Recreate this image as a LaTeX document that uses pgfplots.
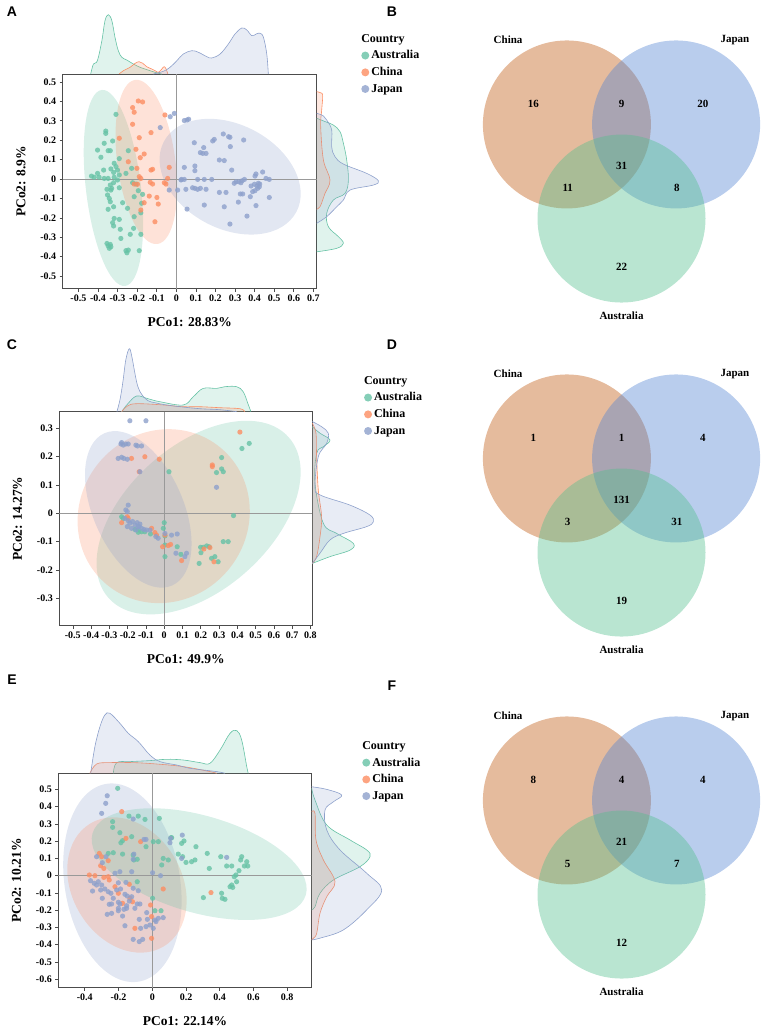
\documentclass[border=0pt]{standalone}
\usepackage{pgfplots}
\pgfplotsset{compat=1.18}
\usepackage{fontspec}
\setmainfont{Liberation Serif}
\newfontfamily\panelfont{Liberation Sans}

\definecolor{aus}{HTML}{66C2A5}
\definecolor{chn}{HTML}{FC8D62}
\definecolor{jpn}{HTML}{8DA0CB}
\definecolor{vchn}{RGB}{204,120,60}
\definecolor{vjpn}{RGB}{80,130,210}
\definecolor{vaus}{RGB}{80,190,140}

\pgfplotsset{
  pcoa/.style={
    scale only axis,
    axis line style={black!70, line width=0.7pt},
    tick style={black!70, line width=0.6pt},
    major tick length=3pt,
    tick align=outside,
    xtick pos=bottom, ytick pos=left,
    tick label style={font=\fontsize{10}{10}\selectfont\bfseries},
    label style={font=\fontsize{13.5}{14}\selectfont\bfseries},
    xlabel shift=9pt, ylabel shift=8pt,
    legend cell align=left,
    legend style={draw=none, fill=none, anchor=north west,
      font=\fontsize{12}{13}\selectfont\bfseries,
      nodes={inner sep=2pt}, row sep=3pt},
    legend image code/.code={\draw[mark repeat=2,mark phase=2,##1,mark size=4pt]
      plot coordinates {(0pt,0pt) (4pt,0pt) (8pt,0pt)};},
  },
  pts/.style={only marks, mark=*, mark size=2.6pt, color=#1,
    mark options={solid, fill=#1, fill opacity=0.8, draw opacity=0}},
  dens/.style={smooth, tension=0.6, draw=#1, line width=0.6pt,
    fill=#1, fill opacity=0.2},
  margin/.style={scale only axis, hide axis, clip=false},
  venn/.style={hide axis, clip=false, x=84pt, y=84pt,
    xmin=-2.875, xmax=1.661, ymin=-1.887, ymax=2.042, anchor=south west,
    nodes={font=\fontsize{11}{11}\selectfont\bfseries}},
}

\begin{document}
\begin{tikzpicture}
\path[use as bounding box] (0,0) rectangle (761pt,-1027pt);

% ---------------- Panel A: PCoA ----------------
\begin{axis}[pcoa, at={(62.7pt,-288.7pt)}, anchor=south west,
  width=254pt, height=214.7pt,
  xmin=-0.58, xmax=0.717, ymin=-0.565, ymax=0.541,
  xtick={-0.5,-0.4,-0.3,-0.2,-0.1,0,0.1,0.2,0.3,0.4,0.5,0.6,0.7},
  xticklabels={-0.5,-0.4,-0.3,-0.2,-0.1,0,0.1,0.2,0.3,0.4,0.5,0.6,0.7},
  ytick={-0.5,-0.4,-0.3,-0.2,-0.1,0,0.1,0.2,0.3,0.4,0.5},
  yticklabels={-0.5,-0.4,-0.3,-0.2,-0.1,0,0.1,0.2,0.3,0.4,0.5},
  xlabel={PCo1: 28.83\%}, ylabel={PCo2: 8.9\%},
  legend style={at={(axis description cs:1.163,1.205)}}]
\fill[aus, opacity=0.25, rotate around={96.8:(axis cs:-0.321,-0.046)}]
  (axis cs:-0.321,-0.046) ellipse [x radius=98.7pt, y radius=27.5pt];
\fill[chn, opacity=0.25, rotate around={97.7:(axis cs:-0.153,0.088)}]
  (axis cs:-0.153,0.088) ellipse [x radius=82.8pt, y radius=29pt];
\fill[jpn, opacity=0.25, rotate around={-28:(axis cs:0.275,0.012)}]
  (axis cs:0.275,0.012) ellipse [x radius=75pt, y radius=52pt];
\draw[black!40, line width=0.7pt] (axis cs:0,-0.565) -- (axis cs:0,0.541);
\draw[black!40, line width=0.7pt] (axis cs:-0.58,0) -- (axis cs:0.717,0);
\addlegendimage{empty legend}\addlegendentry{\hspace*{-10pt}Country}
\addplot[pts=aus] coordinates {
(-0.36,0.247) (-0.36,0.235) (-0.308,0.333) (-0.402,0.149) (-0.368,0.184)
(-0.348,0.146) (-0.337,0.146) (-0.325,0.196) (-0.385,0.112) (-0.291,0.105)
(-0.317,0.081) (-0.308,0.064) (-0.334,0.052) (-0.300,0.046) (-0.320,0.034)
(-0.371,0.046) (-0.402,0.029) (-0.433,0.015) (-0.419,0.009) (-0.394,0.009)
(-0.368,0.003) (-0.348,0.003) (-0.317,0.009) (-0.300,-0.005) (-0.291,0.021)
(-0.257,0.029) (-0.228,0.055) (-0.245,0.146) (-0.337,-0.031) (-0.330,-0.048)
(-0.334,-0.057) (-0.351,-0.082) (-0.291,-0.045) (-0.342,-0.100) (-0.337,-0.117)
(-0.320,-0.143) (-0.348,-0.156) (-0.274,-0.122) (-0.249,-0.151) (-0.215,-0.091)
(-0.172,-0.079) (-0.177,-0.125) (-0.215,-0.194) (-0.181,-0.174) (-0.291,-0.208)
(-0.317,-0.203) (-0.325,-0.225) (-0.320,-0.242) (-0.286,-0.259) (-0.181,-0.285)
(-0.235,-0.285) (-0.283,-0.306) (-0.354,-0.332) (-0.348,-0.344) (-0.337,-0.337)
(-0.342,-0.357) (-0.334,-0.349) (-0.257,-0.369) (-0.245,-0.366) (-0.252,-0.380)
(-0.189,-0.369) (-0.218,-0.254) (-0.206,-0.026) (-0.223,-0.019) (-0.194,-0.060)
(-0.354,-0.053) (-0.320,-0.019)};
\addlegendentry{Australia}
\addplot[pts=chn] coordinates {
(-0.194,0.402) (-0.172,0.397) (-0.223,0.368) (-0.215,0.344) (-0.223,0.282)
(-0.189,0.213) (-0.129,0.239) (-0.206,0.153) (-0.184,0.110) (-0.164,0.129)
(-0.245,0.089) (-0.201,0.055) (-0.129,0.046) (-0.121,0.050) (-0.189,0.012)
(-0.181,0.003) (-0.133,-0.017) (-0.121,-0.026) (-0.215,-0.026) (-0.198,-0.027)
(-0.058,0.330) (-0.036,0.060) (-0.044,0.003) (-0.061,-0.019) (-0.053,-0.026)
(-0.138,-0.088) (-0.099,-0.095) (-0.092,-0.129) (-0.164,-0.122) (-0.181,-0.160)
(-0.109,-0.220) (-0.291,0.210)};
\addlegendentry{China}
\addplot[pts=jpn] coordinates {
(-0.010,0.338) (-0.031,0.321) (-0.082,0.265) (0.041,0.301) (0.055,0.304)
(0.063,0.308) (0.092,0.187) (0.041,0.060) (0.095,0.043) (0.041,-0.002)
(0.027,-0.002) (0.109,-0.002) (0.143,-0.002) (0.181,-0.002) (0.049,-0.053)
(0.083,-0.045) (0.095,-0.048) (0.109,-0.053) (0.123,-0.048) (0.152,-0.053)
(0.095,0.067) (0.123,0.136) (0.140,0.162) (0.135,0.132) (0.152,0.132)
(0.186,0.196) (0.194,0.204) (0.240,0.232) (0.267,0.218) (0.274,0.215)
(0.276,0.167) (0.220,0.098) (0.245,0.095) (0.283,0.046) (0.296,-0.022)
(0.305,-0.014) (0.319,-0.014) (0.330,-0.019) (0.336,-0.009) (0.348,-0.002)
(0.344,0.201) (0.245,-0.143) (0.220,-0.069) (0.254,-0.069) (0.143,-0.134)
(0.055,-0.155) (0.327,-0.077) (0.339,-0.077) (0.317,-0.119) (0.361,-0.191)
(0.274,-0.232) (0.378,-0.091) (0.390,-0.065) (0.402,-0.060) (0.412,-0.036)
(0.416,-0.048) (0.424,-0.040) (0.407,0.026) (0.441,0.036) (0.458,0.003)
(0.475,-0.002) (0.402,0.015) (0.419,-0.022) (0.426,-0.026) (0.407,-0.137)
(0.475,-0.095) (0.399,-0.027) (0.382,-0.036) (0.007,-0.057) (0.024,-0.005)
(-0.036,-0.057)};
\addlegendentry{Japan}
\end{axis}

% top margin density, panel A
\begin{axis}[margin, at={(62.7pt,-74pt)}, anchor=south west,
  width=254pt, height=70pt, xmin=-0.58, xmax=0.717, ymin=0, ymax=70]
\addplot[dens=aus] coordinates {(-0.437,0) (-0.423,10) (-0.403,13.3) (-0.380,33.3)
 (-0.364,53.3) (-0.347,59.3) (-0.329,53.3) (-0.313,36.7) (-0.296,23.3) (-0.278,16.7)
 (-0.253,14) (-0.219,10) (-0.185,6.7) (-0.134,3.3) (-0.091,0.7) (-0.074,0)};
\addplot[dens=chn] coordinates {(-0.292,0) (-0.270,3.3) (-0.236,6.7) (-0.210,10.7)
 (-0.190,12.3) (-0.171,10.7) (-0.151,7.3) (-0.125,5) (-0.108,3.3) (-0.091,1.7)
 (-0.074,5) (-0.062,7.3) (-0.052,5) (-0.043,0)};
\addplot[dens=jpn] coordinates {(-0.117,0) (-0.066,2.7) (-0.032,6.7) (0.003,13.3)
 (0.036,20) (0.079,23.3) (0.113,21.7) (0.156,17.3) (0.181,16) (0.224,20) (0.266,30)
 (0.300,40) (0.335,46) (0.360,44) (0.386,38.3) (0.408,40) (0.428,40.7) (0.445,36.7)
 (0.462,20) (0.470,0)};
\end{axis}

% right margin density, panel A
\begin{axis}[margin, at={(316.7pt,-288.7pt)}, anchor=south west,
  width=80pt, height=214.7pt, xmin=0, xmax=80, ymin=-0.565, ymax=0.541]
\addplot[dens=aus] coordinates {(0,0.313) (8.3,0.296) (16.7,0.278) (23.3,0.244)
 (26.7,0.184) (30,0.098) (31.7,-0.005) (28.3,-0.074) (16.7,-0.108) (10,-0.177)
 (11.7,-0.246) (21.7,-0.297) (26.7,-0.331) (20,-0.357) (0,-0.375)};
\addplot[dens=chn] coordinates {(0,0.450) (5,0.442) (6,0.424) (5,0.356) (4,0.270)
 (6.7,0.098) (13.3,-0.005) (8.3,-0.074) (6,-0.108) (3.3,-0.143) (0,-0.156)};
\addplot[dens=jpn] coordinates {(0,0.339) (6.7,0.325) (10,0.304) (15,0.253)
 (15,0.166) (18.3,0.115) (26.7,0.077) (50,0.029) (61.7,-0.009) (56.7,-0.031)
 (33.3,-0.057) (26.7,-0.108) (20,-0.143) (10,-0.194) (0,-0.228)};
\end{axis}

% ---------------- Panel C: PCoA ----------------
\begin{axis}[pcoa, at={(59.3pt,-625.7pt)}, anchor=south west,
  width=253pt, height=214pt,
  xmin=-0.574, xmax=0.810, ymin=-0.397, ymax=0.359,
  xtick={-0.5,-0.4,-0.3,-0.2,-0.1,0,0.1,0.2,0.3,0.4,0.5,0.6,0.7,0.8},
  xticklabels={-0.5,-0.4,-0.3,-0.2,-0.1,0,0.1,0.2,0.3,0.4,0.5,0.6,0.7,0.8},
  ytick={-0.3,-0.2,-0.1,0,0.1,0.2,0.3},
  yticklabels={-0.3,-0.2,-0.1,0,0.1,0.2,0.3},
  xlabel={PCo1: 49.9\%}, ylabel={PCo2: 14.27\%},
  legend style={at={(axis description cs:1.192,1.1855)}}]
\fill[aus, opacity=0.25, rotate around={41.8:(axis cs:0.188,-0.015)}]
  (axis cs:0.188,-0.015) ellipse [x radius=120.7pt, y radius=72.2pt];
\fill[chn, opacity=0.25, rotate around={50:(axis cs:-0.003,-0.010)}]
  (axis cs:-0.003,-0.010) ellipse [x radius=89pt, y radius=84pt];
\fill[jpn, opacity=0.25, rotate around={114:(axis cs:-0.142,0.014)}]
  (axis cs:-0.142,0.014) ellipse [x radius=83.3pt, y radius=45pt];
\draw[black!40, line width=0.7pt] (axis cs:0,-0.397) -- (axis cs:0,0.359);
\draw[black!40, line width=0.7pt] (axis cs:-0.574,0) -- (axis cs:0.810,0);
\addlegendimage{empty legend}\addlegendentry{\hspace*{-10pt}Country}
\addplot[pts=aus] coordinates {
(0.465,0.247) (0.425,0.229) (0.314,0.197) (0.314,0.157) (0.323,0.147)
(0.286,0.144) (0.026,0.147) (0.379,-0.008) (-0.233,-0.012) (-0.160,-0.057)
(-0.142,-0.059) (-0.124,-0.065) (-0.106,-0.065) (-0.075,-0.073) (0.000,-0.033)
(-0.005,-0.053) (0.004,-0.080) (0.004,-0.112) (0.004,-0.153) (0.071,-0.118)
(0.091,-0.145) (0.199,-0.120) (0.213,-0.120) (0.232,-0.115) (0.246,-0.118)
(0.201,-0.139) (0.259,-0.159) (0.277,-0.153) (0.295,-0.171) (0.191,-0.177)
(0.323,-0.100) (0.350,-0.100) (-0.142,-0.067) (-0.224,-0.018)};
\addlegendentry{Australia}
\addplot[pts=chn] coordinates {
(0.414,0.287) (0.263,0.171) (0.263,0.165) (-0.106,0.200) (-0.179,0.194)
(-0.027,0.191) (-0.137,0.147) (-0.202,-0.012) (-0.197,-0.018) (-0.233,-0.033)
(-0.069,-0.053) (-0.051,-0.068) (-0.042,-0.077) (0.004,-0.077) (-0.009,-0.118)
(0.022,-0.114) (0.035,-0.110) (0.217,-0.126) (0.250,-0.121) (0.095,-0.167)
(0.272,-0.171)};
\addlegendentry{China}
\addplot[pts=jpn] coordinates {
(-0.188,0.327) (-0.100,0.327) (-0.237,0.245) (-0.233,0.250) (-0.224,0.241)
(-0.210,0.245) (-0.197,0.245) (-0.155,0.241) (-0.146,0.238) (-0.124,0.238)
(-0.252,0.194) (-0.233,0.198) (-0.221,0.194) (-0.202,0.191) (-0.133,0.147)
(0.286,0.092) (-0.197,0.029) (-0.210,0.012) (-0.202,0.006) (-0.215,-0.018)
(-0.197,-0.026) (-0.188,-0.035) (-0.173,-0.029) (-0.160,-0.041) (-0.148,-0.033)
(-0.137,-0.047) (-0.124,-0.053) (-0.111,-0.057) (-0.097,-0.059) (-0.078,-0.059)
(-0.046,-0.082) (-0.033,-0.088) (-0.202,-0.047) (-0.179,-0.053) (-0.155,-0.059)
(-0.142,-0.047) (-0.133,-0.038) (0.004,-0.071) (0.040,-0.077) (0.071,-0.073)
(0.122,-0.141) (0.113,-0.153) (0.064,-0.141)};
\addlegendentry{Japan}
\end{axis}

% top margin density, panel C
\begin{axis}[margin, at={(59.3pt,-411.7pt)}, anchor=south west,
  width=253pt, height=70pt, xmin=-0.574, xmax=0.810, ymin=0, ymax=70]
\addplot[dens=aus] coordinates {(-0.233,0) (-0.199,8) (-0.151,15.7) (-0.089,13)
 (-0.024,10) (0.104,6.7) (0.159,15) (0.213,23.3) (0.287,23.3) (0.332,25) (0.396,25)
 (0.432,20) (0.458,8) (0.474,0)};
\addplot[dens=chn] coordinates {(-0.233,0) (-0.199,6) (-0.151,8) (-0.024,7)
 (0.102,5) (0.195,5) (0.305,4) (0.414,3) (0.441,0)};
\addplot[dens=jpn] coordinates {(-0.259,0) (-0.242,12) (-0.226,30) (-0.210,52)
 (-0.191,63) (-0.177,55) (-0.160,38) (-0.144,25) (-0.122,17) (-0.089,11) (-0.051,9)
 (0.004,7) (0.086,5) (0.195,3) (0.305,2) (0.398,0)};
\end{axis}

% right margin density, panel C
\begin{axis}[margin, at={(312.3pt,-625.7pt)}, anchor=south west,
  width=80pt, height=214pt, xmin=0, xmax=80, ymin=-0.397, ymax=0.359]
\addplot[dens=aus] coordinates {(0,0.306) (7.7,0.283) (17.7,0.259) (11,0.235)
 (4.4,0.212) (2.7,0.106) (11,-0.035) (24.4,-0.071) (41,-0.106) (37.7,-0.130)
 (17.7,-0.153) (0,-0.177)};
\addplot[dens=chn] coordinates {(0,0.318) (3.7,0.283) (4.3,0.200) (6,0.082)
 (9.3,-0.012) (7.7,-0.083) (4.3,-0.153) (0,-0.177)};
\addplot[dens=jpn] coordinates {(0,0.324) (9.3,0.306) (16,0.283) (14.3,0.247)
 (6,0.200) (2.7,0.094) (7.7,0.065) (37.7,0.029) (57.7,-0.006) (61,-0.030)
 (54.3,-0.047) (31,-0.071) (17.7,-0.094) (7.7,-0.141) (0,-0.177)};
\end{axis}

% ---------------- Panel E: PCoA ----------------
\begin{axis}[pcoa, at={(58.3pt,-987.7pt)}, anchor=south west,
  width=253.4pt, height=214.4pt,
  xmin=-0.557, xmax=0.945, ymin=-0.649, ymax=0.593,
  xtick={-0.4,-0.2,0,0.2,0.4,0.6,0.8},
  xticklabels={-0.4,-0.2,0,0.2,0.4,0.6,0.8},
  ytick={-0.6,-0.5,-0.4,-0.3,-0.2,-0.1,0,0.1,0.2,0.3,0.4,0.5},
  yticklabels={-0.6,-0.5,-0.4,-0.3,-0.2,-0.1,0,0.1,0.2,0.3,0.4,0.5},
  xlabel={PCo1: 22.14\%}, ylabel={PCo2: 10.21\%},
  legend style={at={(axis description cs:1.187,1.169)}}]
\fill[jpn, opacity=0.25, rotate around={99.3:(axis cs:-0.177,-0.041)}]
  (axis cs:-0.177,-0.041) ellipse [x radius=100.2pt, y radius=57.7pt];
\fill[chn, opacity=0.25, rotate around={120.6:(axis cs:-0.150,-0.054)}]
  (axis cs:-0.150,-0.054) ellipse [x radius=71.6pt, y radius=54.9pt];
\fill[aus, opacity=0.25, rotate around={-16.1:(axis cs:0.278,0.067)}]
  (axis cs:0.278,0.067) ellipse [x radius=111pt, y radius=48.5pt];
\draw[black!40, line width=0.7pt] (axis cs:0,-0.649) -- (axis cs:0,0.593);
\draw[black!40, line width=0.7pt] (axis cs:-0.557,0) -- (axis cs:0.945,0);
\addlegendimage{empty legend}\addlegendentry{\hspace*{-10pt}Country}
\addplot[pts=aus] coordinates {
(-0.205,0.506) (-0.138,0.345) (-0.083,0.345) (-0.043,0.326) (0.042,0.332)
(-0.235,0.313) (-0.235,0.280) (-0.192,0.249) (-0.122,0.226) (-0.176,0.203)
(-0.186,0.191) (-0.037,0.168) (0.006,0.197) (0.036,0.197) (-0.231,0.133)
(-0.176,0.125) (-0.113,0.120) (-0.109,0.091) (-0.089,0.095) (0.065,0.100)
(0.056,0.062) (0.095,0.091) (0.111,0.220) (0.115,0.220) (0.174,0.187)
(0.188,0.201) (0.154,0.125) (0.180,0.110) (0.200,0.077) (0.233,0.081)
(0.259,0.168) (0.253,0.091) (0.326,0.129) (0.338,0.042) (0.406,0.110)
(0.441,0.056) (0.471,0.056) (0.530,0.110) (0.524,0.091) (0.546,0.056)
(0.566,0.056) (0.560,0.081) (0.514,0.029) (0.496,0.004) (0.486,-0.006)
(0.500,-0.035) (0.477,-0.068) (0.461,-0.064) (0.471,-0.054) (0.411,-0.102)
(0.415,-0.131) (0.431,-0.137) (0.303,-0.127) (0.002,-0.131) (0.016,-0.203)
(0.052,-0.203) (-0.089,-0.035) (-0.261,0.129)};
\addlegendentry{Australia}
\addplot[pts=chn] coordinates {
(-0.181,0.371) (-0.156,0.216) (-0.069,0.197) (-0.314,0.129) (-0.300,0.110)
(-0.306,0.058) (-0.261,0.087) (-0.373,0.004) (-0.340,0.000) (-0.261,-0.006)
(-0.255,-0.025) (-0.287,-0.010) (-0.221,-0.064) (-0.136,-0.050) (-0.201,-0.102)
(-0.176,-0.160) (-0.132,-0.131) (-0.117,-0.151) (-0.010,-0.170) (-0.004,-0.237)
(0.065,-0.077) (-0.103,-0.305) (-0.004,-0.363) (0.348,-0.098) (-0.287,0.042)};
\addlegendentry{China}
\addplot[pts=jpn] coordinates {
(-0.267,0.463) (-0.276,0.419) (-0.300,0.361) (-0.113,0.328) (-0.049,0.210)
(-0.037,0.210) (0.105,0.191) (0.109,0.216) (0.178,0.235) (-0.330,0.110)
(-0.296,0.075) (-0.274,0.110) (-0.109,0.125) (-0.113,0.095) (-0.122,0.023)
(0.002,0.017) (0.049,0.000) (0.174,0.100) (0.441,0.106) (-0.366,-0.029)
(-0.344,-0.044) (-0.320,-0.035) (-0.300,-0.054) (-0.330,-0.054) (-0.354,-0.089)
(-0.306,-0.083) (-0.281,-0.077) (-0.261,-0.093) (-0.201,-0.041) (-0.211,-0.083)
(-0.188,-0.077) (-0.162,-0.108) (-0.148,-0.118) (-0.122,-0.122) (-0.245,-0.102)
(-0.231,-0.131) (-0.296,-0.131) (-0.255,-0.166) (-0.241,-0.164) (-0.201,-0.154)
(-0.192,-0.164) (-0.152,-0.189) (-0.201,-0.189) (-0.152,-0.174) (-0.073,-0.164)
(-0.089,-0.164) (-0.103,-0.189) (-0.168,-0.195) (-0.267,-0.224) (-0.241,-0.218)
(-0.201,-0.203) (-0.176,-0.234) (-0.033,-0.214) (-0.077,-0.253) (-0.029,-0.253)
(0.016,-0.257) (0.036,-0.247) (0.022,-0.266) (0.065,-0.243) (-0.014,-0.286)
(0.006,-0.305) (-0.162,-0.290) (-0.069,-0.305) (-0.037,-0.295) (-0.113,-0.369)
(-0.077,-0.382) (-0.057,-0.369) (-0.083,-0.087) (-0.136,-0.147) (-0.113,-0.073)
(-0.221,0.014) (-0.192,0.023) (-0.156,-0.039)};
\addlegendentry{Japan}
\end{axis}

% top margin density, panel E
\begin{axis}[margin, at={(58.3pt,-773.3pt)}, anchor=south west,
  width=253.4pt, height=70pt, xmin=-0.557, xmax=0.945, ymin=0, ymax=70]
\addplot[dens=aus] coordinates {(-0.231,0) (-0.211,10.7) (-0.132,11.7) (-0.014,12.7)
 (0.085,14) (0.184,13.3) (0.283,10.7) (0.342,10) (0.402,23.3) (0.461,40) (0.501,42.7)
 (0.530,33.3) (0.560,6.7) (0.569,0)};
\addplot[dens=chn] coordinates {(-0.370,0) (-0.330,9.3) (-0.251,10.7) (-0.113,10.7)
 (0.026,9.3) (0.184,6.7) (0.342,1.7) (0.382,0)};
\addplot[dens=jpn] coordinates {(-0.365,0) (-0.340,26.7) (-0.310,46.7) (-0.281,58.3)
 (-0.251,60) (-0.192,50) (-0.142,40) (-0.083,31.7) (-0.014,18.3) (0.046,11.7)
 (0.145,8.3) (0.224,5) (0.382,1.7) (0.431,0)};
\end{axis}

% right margin density, panel E
\begin{axis}[margin, at={(311.7pt,-987.7pt)}, anchor=south west,
  width=80pt, height=214.4pt, xmin=0, xmax=80, ymin=-0.649, ymax=0.593]
\addplot[dens=aus] coordinates {(0,0.506) (3.3,0.438) (15,0.294) (38.3,0.207)
 (55,0.149) (58.3,0.110) (48.3,0.052) (21.7,-0.025) (8.3,-0.102) (3.3,-0.180)
 (0,-0.199)};
\addplot[dens=chn] coordinates {(0,0.371) (3.3,0.361) (4.3,0.207) (11.7,0.091)
 (23.3,-0.035) (15,-0.122) (8.3,-0.218) (5,-0.334) (1.7,-0.362) (0,-0.372)};
\addplot[dens=jpn] coordinates {(0,0.515) (15,0.500) (30,0.467) (21.7,0.428)
 (13.3,0.380) (15,0.265) (28.3,0.149) (55,0.014) (70,-0.083) (55,-0.198)
 (31.7,-0.314) (8.3,-0.362) (0,-0.372)};
\end{axis}

% ---------------- Venn diagrams B, D, F ----------------
% B
\begin{axis}[venn, at={(380pt,-330pt)}]
\fill[vchn, fill opacity=0.5] (axis cs:-0.65,0.56) circle [radius=1];
\fill[vjpn, fill opacity=0.4] (axis cs:0.65,0.56) circle [radius=1];
\fill[vaus, fill opacity=0.40] (axis cs:0,-0.56) circle [radius=1];
\node at (axis cs:-1.35,1.565) {China};
\node at (axis cs:1.35,1.565) {Japan};
\node at (axis cs:0,-1.72) {Australia};
\node at (axis cs:-1.05,0.80) {16};
\node at (axis cs:0,0.80) {9};
\node at (axis cs:0.97,0.80) {20};
\node at (axis cs:0,0.065) {31};
\node at (axis cs:-0.64,-0.20) {11};
\node at (axis cs:0.66,-0.20) {8};
\node at (axis cs:0,-1.14) {22};
\end{axis}
% D
\begin{axis}[venn, at={(380pt,-664pt)}]
\fill[vchn, fill opacity=0.5] (axis cs:-0.65,0.56) circle [radius=1];
\fill[vjpn, fill opacity=0.4] (axis cs:0.65,0.56) circle [radius=1];
\fill[vaus, fill opacity=0.40] (axis cs:0,-0.56) circle [radius=1];
\node at (axis cs:-1.35,1.565) {China};
\node at (axis cs:1.35,1.565) {Japan};
\node at (axis cs:0,-1.72) {Australia};
\node at (axis cs:-1.05,0.80) {1};
\node at (axis cs:0,0.80) {1};
\node at (axis cs:0.97,0.80) {4};
\node at (axis cs:0,0.065) {131};
\node at (axis cs:-0.64,-0.20) {3};
\node at (axis cs:0.66,-0.20) {31};
\node at (axis cs:0,-1.14) {19};
\end{axis}
% F
\begin{axis}[venn, at={(380pt,-1006pt)}]
\fill[vchn, fill opacity=0.5] (axis cs:-0.65,0.56) circle [radius=1];
\fill[vjpn, fill opacity=0.4] (axis cs:0.65,0.56) circle [radius=1];
\fill[vaus, fill opacity=0.40] (axis cs:0,-0.56) circle [radius=1];
\node at (axis cs:-1.35,1.565) {China};
\node at (axis cs:1.35,1.565) {Japan};
\node at (axis cs:0,-1.72) {Australia};
\node at (axis cs:-1.05,0.80) {8};
\node at (axis cs:0,0.80) {4};
\node at (axis cs:0.97,0.80) {4};
\node at (axis cs:0,0.065) {21};
\node at (axis cs:-0.64,-0.20) {5};
\node at (axis cs:0.66,-0.20) {7};
\node at (axis cs:0,-1.14) {12};
\end{axis}

% panel letters
\begin{scope}[every node/.style={font=\panelfont\bfseries\fontsize{14}{14}\selectfont}]
\node at (12pt,-12pt) {A};
\node at (392pt,-12pt) {B};
\node at (12pt,-345pt) {C};
\node at (392pt,-345pt) {D};
\node at (12pt,-680pt) {E};
\node at (392pt,-686pt) {F};
\end{scope}
\end{tikzpicture}
\end{document}
